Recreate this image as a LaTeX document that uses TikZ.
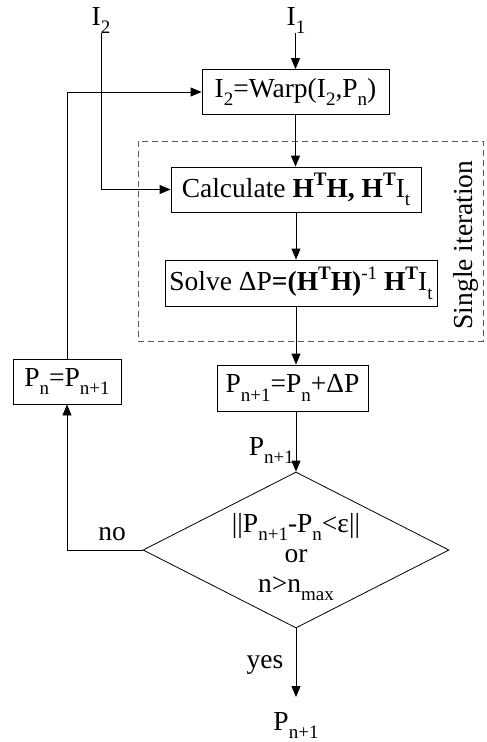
\documentclass[tikz,border=0pt]{standalone}
\usepackage{fontspec}
\setmainfont{Liberation Serif}
\usetikzlibrary{arrows.meta,shapes.geometric}
\newcommand\sbx[1]{\raisebox{-0.3em}{\fontsize{19}{20}\selectfont #1}}
\newcommand\spx[1]{\raisebox{0.42em}{\fontsize{19}{20}\selectfont #1}}
\begin{document}
\begin{tikzpicture}[x=1pt,y=-1pt,
  font=\fontsize{27.5}{30}\selectfont,
  box/.style={draw, line width=0.9pt, inner sep=0pt, minimum height=45pt},
  arr/.style={-{Triangle[length=11pt,width=9pt]}, line width=0.9pt},
  lbl/.style={inner sep=0pt, anchor=base}]
\useasboundingbox (0,0) rectangle (487,742);

% labels at the top
\node[lbl] (I2) at (101,25) {I\sbx{2}};
\node[lbl] (I1) at (296,25) {I\sbx{1}};

% boxes
\node[box, minimum width=187pt] (w) at (295.5,92) {I\sbx{2}=Warp(I\sbx{2},P\sbx{n})};
\node[box, minimum width=250pt] (calc) at (296,189.5) {Calculate \textbf{H\spx{T}H, H\spx{T}}I\sbx{t}};
\node[box, minimum width=272pt, minimum height=46pt] (solve) at (301,283) {Solve ΔP\textbf{=(H\spx{T}H)}\spx{-1} \textbf{H\spx{T}}I\sbx{t}};
\node[box, minimum width=151pt, minimum height=46pt] (upd) at (292.5,388) {P\sbx{n+1}=P\sbx{n}+ΔP};
\node[box, minimum width=108pt] (pn) at (67,381.5) {P\sbx{n}=P\sbx{n+1}};

% dashed frame and its label
\draw[dashed, dash pattern=on 6pt off 4pt, line width=0.8pt, gray!70!black] (138,141) rectangle (483,341);
\node[inner sep=0pt, rotate=90] (single) at (466,245) {Single iteration};

% decision
\node[diamond, draw, line width=0.8pt, minimum width=306pt, minimum height=156pt, inner sep=0pt] (dec) at (296,550) {};
\node[lbl] (d1) at (296,532) {||P\sbx{n+1}-P\sbx{n}<ε||};
\node[lbl] (d2) at (296,562) {or};
\node[lbl] (d3) at (296,592) {n>n\sbx{max}};

% connector labels
\node[lbl, anchor=base east] (lp) at (294,455) {P\sbx{n+1}};
\node[lbl] (no) at (112,540) {no};
\node[lbl] (yes) at (265,668) {yes};
\node[lbl] (out) at (296,730) {P\sbx{n+1}};
\coordinate (yesend) at (296,697);

% connectors
\draw[arr] (w.north |- I1.south) -- (w.north);
\draw[arr] (w.south) -- (w.south |- calc.north);
\draw[arr] (I2.south) |- (calc.west);
\draw[arr] (calc.south) -- (calc.south |- solve.north);
\draw[arr] (calc.south |- solve.south) -- (calc.south |- upd.north);
\draw[arr] (dec.north |- upd.south) -- (dec.north);
\draw[arr] (dec.west) -| (pn.south);
\draw[arr] (pn.north) |- (w.west);
\draw[arr] (dec.south) -- (yesend);
\end{tikzpicture}
\end{document}
